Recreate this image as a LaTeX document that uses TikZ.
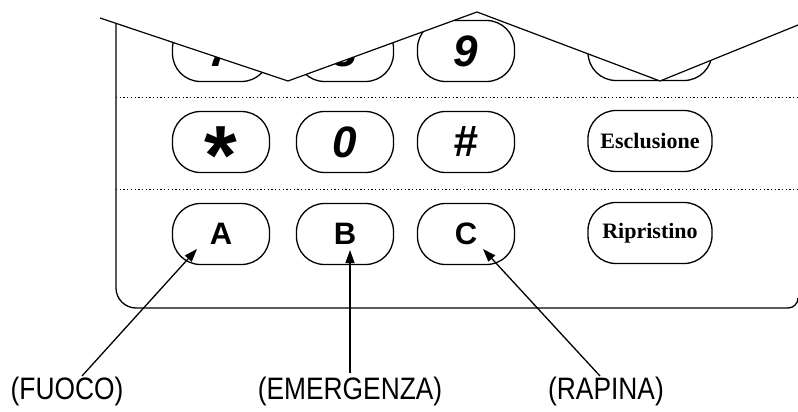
\documentclass[tikz,border=0pt]{standalone}
\usepackage{fontspec}
\usepackage{graphicx}
\setmainfont{Liberation Sans}
\newfontfamily\serifb{Liberation Serif}
\usetikzlibrary{arrows.meta}
\begin{document}
\begin{tikzpicture}[x=1pt,y=-1pt,
  btn/.style={draw, line width=1.3pt, rectangle, rounded corners=28pt, minimum width=97pt, minimum height=61pt, inner sep=0pt},
  wbtn/.style={btn, minimum width=124pt},
  dig/.style={font=\fontsize{44}{44}\selectfont\bfseries\itshape},
  lett/.style={font=\fontsize{31}{31}\selectfont\bfseries},
  ser/.style={font=\serifb\fontsize{22}{22}\selectfont\bfseries},
  lab/.style={font=\fontsize{31}{31}\selectfont, anchor=base, inner sep=0pt},
  arr/.style={line width=1.3pt, -{Triangle[length=13pt,width=9pt]}},
  dots/.style={line width=1pt, dash pattern=on 1.3pt off 2.4pt}]
\useasboundingbox (0,0) rectangle (798,412);
% frame
\draw[line width=1.3pt] (116,10) -- (116,288) .. controls (116,299) and (125,308) .. (136,308) -- (788,308) .. controls (793.5,308) and (798,303.5) .. (798,298);
\draw[dots] (116,97) -- (798,97);
\draw[dots] (116,189) -- (798,189);
% row 1
\node[btn, dig] (k7) at (221,51) {7};
\node[btn, dig] (k8) at (345,51) {8};
\node[btn, dig] (k9) at (466,51) {9};
\node[wbtn] (kr1) at (650,50) {};
% row 2
\node[btn] (kst) at (221,142) {};
\node[font=\fontsize{84}{84}\selectfont\bfseries, inner sep=0pt, anchor=base] (st) at (221,184) {*};
\node[btn, dig] (k0) at (345,142) {0};
\node[btn, dig] (kh) at (466,142) {\#};
\node[wbtn, ser] (ke) at (650,141) {Esclusione};
% row 3
\node[btn, lett] (ka) at (221,234) {A};
\node[btn, lett] (kb) at (345,234) {B};
\node[btn, lett] (kc) at (466,234) {C};
\node[wbtn, ser] (kri) at (650,233) {Ripristino};
% cut
\fill[white] (100,18) -- (288,81) -- (477,12) -- (660,81) -- (798,25) -- (798,-5) -- (100,-5) -- cycle;
\draw[line width=1.2pt] (100,18) -- (288,81) -- (477,12) -- (660,81) -- (798,25);
% labels
\node[lab] (fuoco) at (67,399) {\scalebox{0.85}[1]{(FUOCO)}};
\node[lab] (emer) at (350,399) {\scalebox{0.85}[1]{(EMERGENZA)}};
\node[lab] (rap) at (606,399) {\scalebox{0.85}[1]{(RAPINA)}};
\coordinate (fa) at (82,376);
\coordinate (ea) at (350,373);
\coordinate (ra) at (600,376);
\coordinate (ta) at (197,249);
\coordinate (tb) at (350,250);
\coordinate (tc) at (483,249);
\draw[arr] (fa) -- (ta);
\draw[arr] (ea) -- (tb);
\draw[arr] (ra) -- (tc);
\end{tikzpicture}
\end{document}
